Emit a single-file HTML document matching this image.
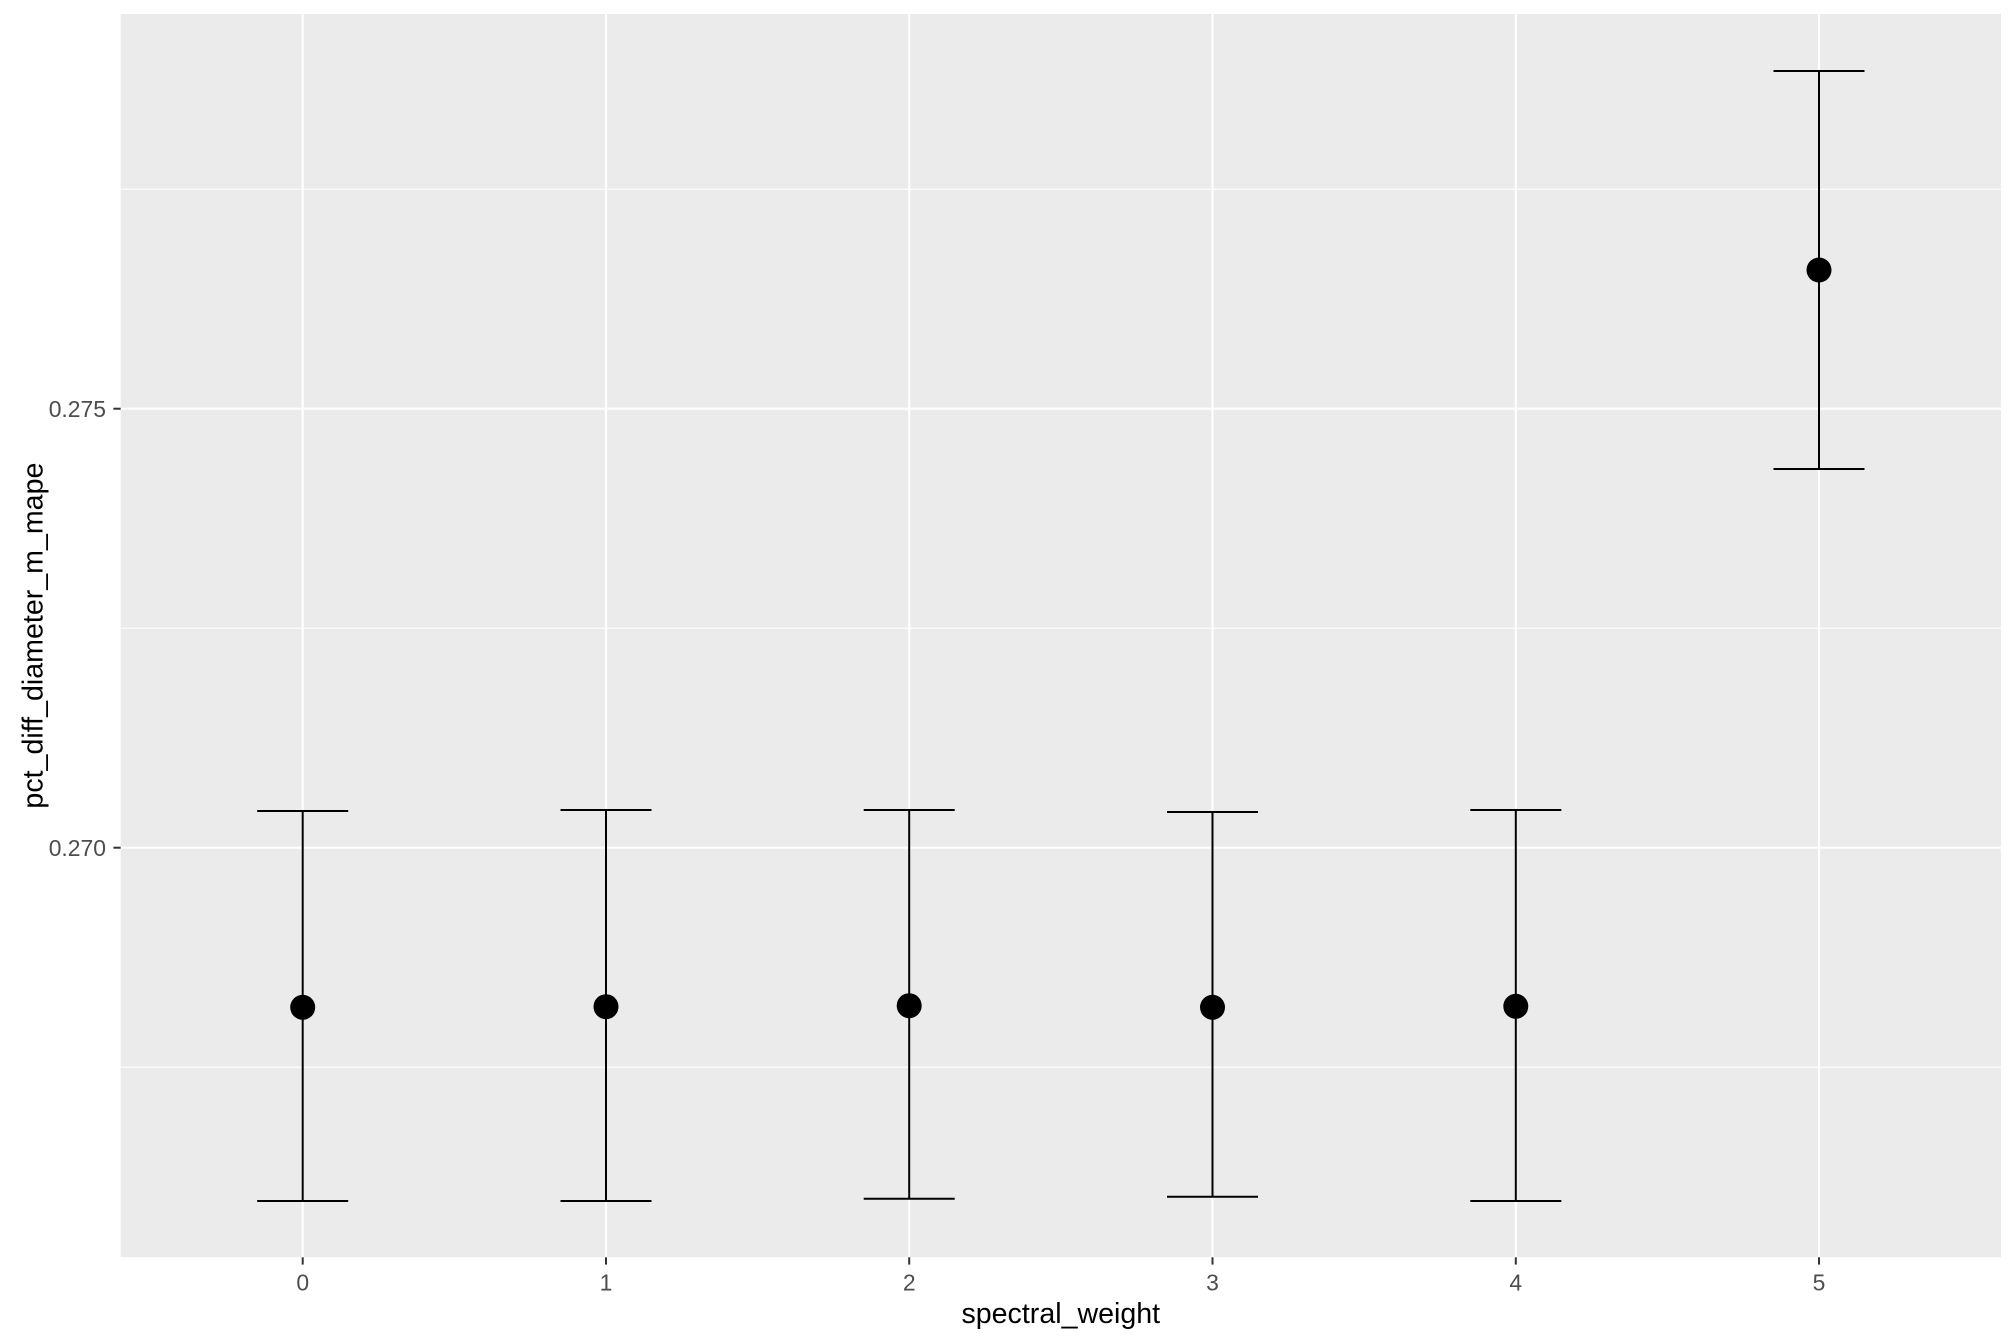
<!DOCTYPE html>
<html>
<head>
<meta charset="utf-8">
<style>
  html, body { margin: 0; padding: 0; background: #ffffff; }
  svg { display: block; }
  text { font-family: "Liberation Sans", Arial, sans-serif; }
</style>
</head>
<body>
<svg width="2016" height="1344" viewBox="0 0 2016 1344" xmlns="http://www.w3.org/2000/svg">
  <rect x="0" y="0" width="2016" height="1344" fill="#ffffff"/>
  <!-- panel -->
  <rect x="120.7" y="14" width="1880.3" height="1243.3" fill="#EBEBEB"/>
  <!-- minor gridlines -->
  <g stroke="#ffffff" stroke-width="1.1">
    <line x1="120.7" x2="2001" y1="189.2" y2="189.2"/>
    <line x1="120.7" x2="2001" y1="628.2" y2="628.2"/>
    <line x1="120.7" x2="2001" y1="1067.2" y2="1067.2"/>
  </g>
  <!-- major gridlines -->
  <g stroke="#ffffff" stroke-width="2.1">
    <line x1="120.7" x2="2001" y1="408.7" y2="408.7"/>
    <line x1="120.7" x2="2001" y1="847.7" y2="847.7"/>
    <line y1="14" y2="1257.3" x1="302.7" x2="302.7"/>
    <line y1="14" y2="1257.3" x1="606" x2="606"/>
    <line y1="14" y2="1257.3" x1="909.2" x2="909.2"/>
    <line y1="14" y2="1257.3" x1="1212.5" x2="1212.5"/>
    <line y1="14" y2="1257.3" x1="1515.8" x2="1515.8"/>
    <line y1="14" y2="1257.3" x1="1819" x2="1819"/>
  </g>
  <!-- error bars -->
  <g stroke="#000000" stroke-width="2" fill="none">
    <line x1="302.7" x2="302.7" y1="811" y2="1201"/>
    <line x1="257.2" x2="348.2" y1="811" y2="811"/>
    <line x1="257.2" x2="348.2" y1="1201" y2="1201"/>

    <line x1="606" x2="606" y1="810" y2="1201"/>
    <line x1="560.5" x2="651.5" y1="810" y2="810"/>
    <line x1="560.5" x2="651.5" y1="1201" y2="1201"/>

    <line x1="909.2" x2="909.2" y1="810" y2="1198.7"/>
    <line x1="863.7" x2="954.7" y1="810" y2="810"/>
    <line x1="863.7" x2="954.7" y1="1198.7" y2="1198.7"/>

    <line x1="1212.5" x2="1212.5" y1="812" y2="1196.7"/>
    <line x1="1167" x2="1258" y1="812" y2="812"/>
    <line x1="1167" x2="1258" y1="1196.7" y2="1196.7"/>

    <line x1="1515.8" x2="1515.8" y1="810" y2="1201"/>
    <line x1="1470.3" x2="1561.3" y1="810" y2="810"/>
    <line x1="1470.3" x2="1561.3" y1="1201" y2="1201"/>

    <line x1="1819" x2="1819" y1="71" y2="469"/>
    <line x1="1773.5" x2="1864.5" y1="71" y2="71"/>
    <line x1="1773.5" x2="1864.5" y1="469" y2="469"/>
  </g>
  <!-- points -->
  <g fill="#000000">
    <circle cx="302.7" cy="1007.3" r="12.5"/>
    <circle cx="606" cy="1006.7" r="12.5"/>
    <circle cx="909.2" cy="1005.7" r="12.5"/>
    <circle cx="1212.5" cy="1007.3" r="12.5"/>
    <circle cx="1515.8" cy="1006.3" r="12.5"/>
    <circle cx="1819" cy="270" r="12.5"/>
  </g>
  <!-- axis ticks -->
  <g stroke="#333333" stroke-width="2">
    <line x1="113.4" x2="120.7" y1="408.7" y2="408.7"/>
    <line x1="113.4" x2="120.7" y1="847.7" y2="847.7"/>
    <line x1="302.7" x2="302.7" y1="1257.3" y2="1264.6"/>
    <line x1="606" x2="606" y1="1257.3" y2="1264.6"/>
    <line x1="909.2" x2="909.2" y1="1257.3" y2="1264.6"/>
    <line x1="1212.5" x2="1212.5" y1="1257.3" y2="1264.6"/>
    <line x1="1515.8" x2="1515.8" y1="1257.3" y2="1264.6"/>
    <line x1="1819" x2="1819" y1="1257.3" y2="1264.6"/>
  </g>
  <!-- y tick labels -->
  <g fill="#4D4D4D" font-size="22.9" text-anchor="end">
    <text x="106" y="416.9">0.275</text>
    <text x="106" y="855.9">0.270</text>
  </g>
  <!-- x tick labels -->
  <g fill="#4D4D4D" font-size="22.9" text-anchor="middle">
    <text x="302.7" y="1290.5">0</text>
    <text x="606" y="1290.5">1</text>
    <text x="909.2" y="1290.5">2</text>
    <text x="1212.5" y="1290.5">3</text>
    <text x="1515.8" y="1290.5">4</text>
    <text x="1819" y="1290.5">5</text>
  </g>
  <!-- axis titles -->
  <text x="1060.8" y="1323" font-size="28.6" fill="#000000" text-anchor="middle">spectral_weight</text>
  <text transform="translate(42.7,635.6) rotate(-90)" x="0" y="0" font-size="28.6" fill="#000000" text-anchor="middle">pct_diff_diameter_m_mape</text>
</svg>
</body>
</html>
